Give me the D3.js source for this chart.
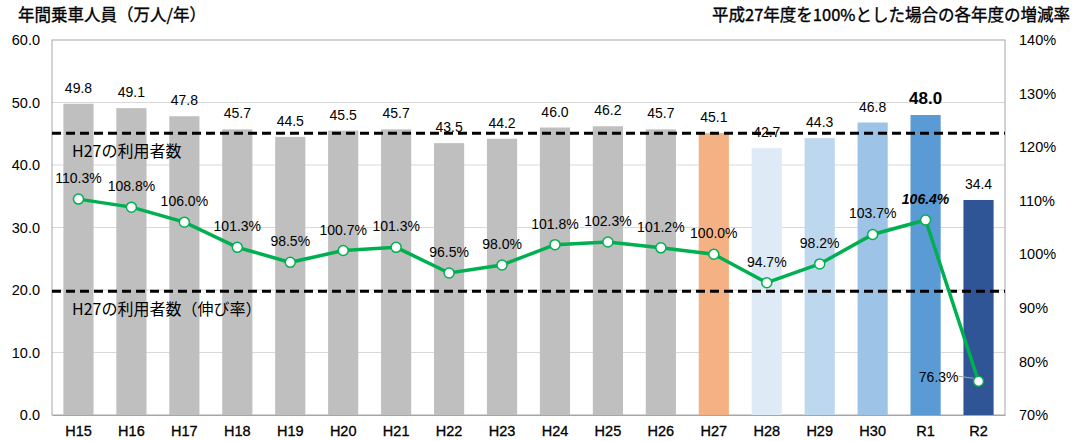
<!DOCTYPE html>
<html>
<head>
<meta charset="utf-8">
<script src="https://cdn.jsdelivr.net/npm/d3@7"></script>
<style>
  body { margin: 0; background: #fff; }
  svg text { font-family: "Liberation Sans", Arial, "Noto Sans CJK JP", sans-serif; fill: #000; }
  .jp { font-family: "Noto Sans CJK JP", sans-serif; }
</style>
</head>
<body>
<div id="chart"></div>
<script>
// 年度
const years = ["H15","H16","H17","H18","H19","H20","H21","H22","H23","H24","H25","H26","H27","H28","H29","H30","R1","R2"];
// 年間乗車人員（万人/年）
const riders = [49.8,49.1,47.8,45.7,44.5,45.5,45.7,43.5,44.2,46.0,46.2,45.7,45.1,42.7,44.3,46.8,48.0,34.4];
// H27比の増減率（%）
const rates = [110.3,108.8,106.0,101.3,98.5,100.7,101.3,96.5,98.0,101.8,102.3,101.2,100.0,94.7,98.2,103.7,106.4,76.3];
// 棒の色
const barColors = ["#bfbfbf","#bfbfbf","#bfbfbf","#bfbfbf","#bfbfbf","#bfbfbf","#bfbfbf","#bfbfbf","#bfbfbf","#bfbfbf","#bfbfbf","#bfbfbf",
                   "#f4b183","#deebf7","#bdd7ee","#9dc3e6","#5b9bd5","#2f5597"];
// 軸目盛
const leftTicks = [0,10,20,30,40,50,60];
const rightTicks = [70,80,90,100,110,120,130,140];
// 基準線（左軸の値）
const refLines = [
  { value: 45.1, label: "H27の利用者数" },
  { value: 19.8, label: "H27の利用者数（伸び率）" }
];

const W = 1077, H = 441;
const margin = { top: 40, right: 72, bottom: 26, left: 52 };
const width = W - margin.left - margin.right;
const height = H - margin.top - margin.bottom;

const root = d3.select("#chart").append("svg")
    .attr("width", W).attr("height", H);

const svg = root.append("g")
    .attr("transform", `translate(${margin.left},${margin.top})`);

const x = d3.scaleBand().domain(years).range([0, width]).paddingInner(0.43).paddingOuter(0.215);
const y = d3.scaleLinear().domain([0, 60]).range([height, 0]);
const y2 = d3.scaleLinear().domain([70, 140]).range([height, 0]);

// グリッド線
svg.selectAll(".grid")
    .data(leftTicks.filter(d => d > 0 && d < 60))
    .enter().append("line")
    .attr("x1", 0).attr("x2", width)
    .attr("y1", d => y(d)).attr("y2", d => y(d))
    .attr("stroke", "#d9d9d9").attr("stroke-width", 1);

// 枠
svg.append("rect")
    .attr("x", 0).attr("y", 0).attr("width", width).attr("height", height)
    .attr("fill", "none").attr("stroke", "#a6a6a6").attr("stroke-width", 1);

// 左軸
const yAxis = d3.axisLeft(y).tickValues(leftTicks).tickFormat(d3.format(".1f")).tickSize(0).tickPadding(12);
svg.append("g").call(yAxis)
    .call(g => g.select(".domain").remove())
    .selectAll("text").attr("font-size", 14.5);

// 右軸
const y2Axis = d3.axisRight(y2).tickValues(rightTicks).tickFormat(d => d + "%").tickSize(0).tickPadding(14);
svg.append("g").attr("transform", `translate(${width},0)`).call(y2Axis)
    .call(g => g.select(".domain").remove())
    .selectAll("text").attr("font-size", 14.5);

// 横軸
const xAxis = d3.axisBottom(x).tickSize(0).tickPadding(11);
svg.append("g").attr("transform", `translate(0,${height})`).call(xAxis)
    .call(g => g.select(".domain").attr("stroke", "#a6a6a6"))
    .selectAll("text").attr("font-size", 14.5).attr("font-weight", "normal").attr("fill", "#000")
    .attr("stroke", "#000").attr("stroke-width", 0.3);

// 棒
svg.selectAll(".bar")
    .data(riders)
    .enter().append("rect")
    .attr("class", "bar")
    .attr("x", (d, i) => x(years[i]))
    .attr("width", x.bandwidth())
    .attr("y", d => y(d))
    .attr("height", d => height - y(d))
    .attr("fill", (d, i) => barColors[i]);

// 基準線
refLines.forEach(r => {
  svg.append("line")
      .attr("x1", 0).attr("x2", width)
      .attr("y1", y(r.value)).attr("y2", y(r.value))
      .attr("stroke", "#000").attr("stroke-width", 3)
      .attr("stroke-dasharray", "9,5");
  svg.append("text")
      .attr("class", "jp")
      .attr("x", 20).attr("y", y(r.value) + 24)
      .attr("font-size", 16)
      .text(r.label);
});

// 棒の値ラベル
svg.selectAll(".barLabel")
    .data(riders)
    .enter().append("text")
    .attr("x", (d, i) => x(years[i]) + x.bandwidth() / 2)
    .attr("y", d => y(d) - 11)
    .attr("text-anchor", "middle")
    .attr("font-size", (d, i) => years[i] === "R1" ? 17 : 14)
    .attr("font-weight", (d, i) => years[i] === "R1" ? "bold" : "normal")
    .text(d => d.toFixed(1));

// 増減率の線
const line = d3.line()
    .x((d, i) => x(years[i]) + x.bandwidth() / 2)
    .y(d => y2(d));

svg.append("path")
    .datum(rates)
    .attr("fill", "none")
    .attr("stroke", "#00b050")
    .attr("stroke-width", 3.5)
    .attr("d", line);

svg.selectAll(".pt")
    .data(rates)
    .enter().append("circle")
    .attr("cx", (d, i) => x(years[i]) + x.bandwidth() / 2)
    .attr("cy", d => y2(d))
    .attr("r", 5)
    .attr("fill", "#fff")
    .attr("stroke", "#00b050")
    .attr("stroke-width", 1.5);

// 増減率ラベル
const last = rates.length - 1;
svg.append("line")
    .attr("x1", x(years[last]) + x.bandwidth() / 2 - 20).attr("x2", x(years[last]) + x.bandwidth() / 2 - 5)
    .attr("y1", y2(rates[last]) - 5).attr("y2", y2(rates[last]) - 3)
    .attr("stroke", "#a6a6a6").attr("stroke-width", 1);

svg.selectAll(".rateLabel")
    .data(rates)
    .enter().append("text")
    .attr("x", (d, i) => i === last ? x(years[i]) + x.bandwidth() / 2 - 20 : x(years[i]) + x.bandwidth() / 2)
    .attr("y", (d, i) => i === last ? y2(d) + 1 : y2(d) - 16)
    .attr("text-anchor", (d, i) => i === last ? "end" : "middle")
    .attr("font-size", 14)
    .attr("font-weight", (d, i) => years[i] === "R1" ? "bold" : "normal")
    .attr("font-style", (d, i) => years[i] === "R1" ? "italic" : "normal")
    .text(d => d.toFixed(1) + "%");

// タイトル
root.append("text")
    .attr("class", "jp")
    .attr("x", 18).attr("y", 21)
    .attr("font-size", 16.5).attr("fill", "#000")
    .attr("stroke", "#000").attr("stroke-width", 0.35)
    .text("年間乗車人員（万人/年）");

root.append("text")
    .attr("class", "jp")
    .attr("x", 1070).attr("y", 21)
    .attr("text-anchor", "end")
    .attr("font-size", 16.5).attr("fill", "#000")
    .attr("stroke", "#000").attr("stroke-width", 0.35)
    .text("平成27年度を100%とした場合の各年度の増減率");
</script>
</body>
</html>
